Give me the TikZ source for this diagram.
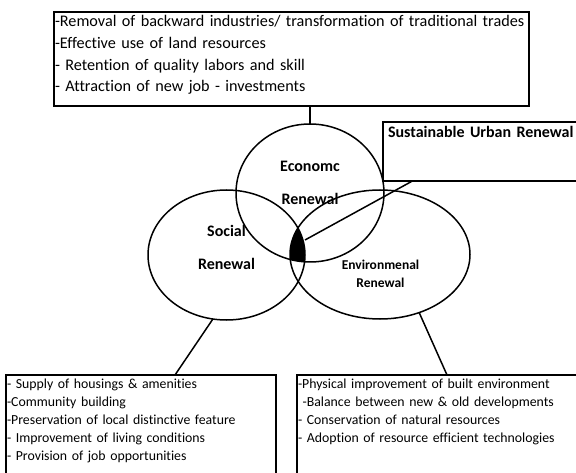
\documentclass[tikz,border=0pt]{standalone}
\usepackage{fontspec}
\setmainfont{Carlito}[Ligatures=NoCommon]
\usetikzlibrary{shapes.geometric, positioning}

\begin{document}
\begin{tikzpicture}[x=1pt, y=-1pt, line width=1.5pt, font=\fontsize{13.8}{18}\selectfont]
	\tikzstyle{listbox} = [draw=black, rectangle, anchor=north west, align=left, inner xsep=1pt, inner ysep=4pt, outer sep=0pt]
	\tikzstyle{ring} = [draw=black, ellipse, inner sep=0pt, outer sep=0pt]
	\tikzstyle{ringtext} = [align=center, inner sep=0pt, font=\bfseries\fontsize{16}{33}\selectfont]

	\useasboundingbox (0,0) rectangle (576,473);
	\clip (0,0) rectangle (576,473);

	% overlap of all three
	\begin{scope}
		\clip (310,193) ellipse [x radius=74pt, y radius=69pt];
		\clip (226.5,255) ellipse [x radius=78.5pt, y radius=65pt];
		\fill (380,254.5) ellipse [x radius=90pt, y radius=64.5pt];
	\end{scope}

	\node[ringtext]			at (310,182.5)	(econtext)	{Economc\\Renewal};
	\node[ringtext]			at (226.5,247)	(soctext)	{Social\\Renewal};
	\node[ringtext, font=\bfseries\fontsize{13.5}{18}\selectfont]
							at (380.5,274)	(envtext)	{Environmenal\\Renewal};

	\node[ring, minimum width=148pt, minimum height=138pt]	at (310,193)	(econ)	{};
	\node[ring, minimum width=157pt, minimum height=130pt]	at (226.5,255)	(social)	{};
	\node[ring, minimum width=180pt, minimum height=129pt]	at (380,254.5)	(env)	{};
	\coordinate (core) at (305,240);

	\node[listbox, text width=473pt, text depth=76pt, inner ysep=3.5pt, font=\fontsize{16.2}{21.7}\selectfont]
							at (54,12)		(econlist)
		{-Removal of backward industries/ transformation of traditional trades\\
		-Effective use of land resources\\
		- Retention of quality labors and skill\\
		- Attraction of new job - investments};
	\node[listbox, text width=268pt, text depth=100pt]
							at (6,375)		(soclist)
		{- Supply of housings \& amenities\\
		-Community building\\
		-Preservation of local distinctive feature\\
		- Improvement of living conditions\\
		- Provision of job opportunities};
	\node[listbox, text width=285pt, text depth=100pt]
							at (297,375)	(envlist)
		{-Physical improvement of built environment\\
		\ -Balance between new \& old developments\\
		- Conservation of natural resources\\
		- Adoption of resource efficient technologies};
	\node[listbox, text width=210pt, text depth=40pt, inner xsep=5pt, font=\bfseries\fontsize{16}{20}\selectfont]
							at (383,122)	(sur)	{Sustainable Urban Renewal};

	\draw (econ.north) -- (econ.north |- econlist.south);
	\draw (social.258) -- ([xshift=169pt]soclist.north west);
	\draw (env.304) -- ([xshift=150pt]envlist.north west);
	\draw ([xshift=29pt]sur.south west) -- (core);
\end{tikzpicture}
\end{document}
